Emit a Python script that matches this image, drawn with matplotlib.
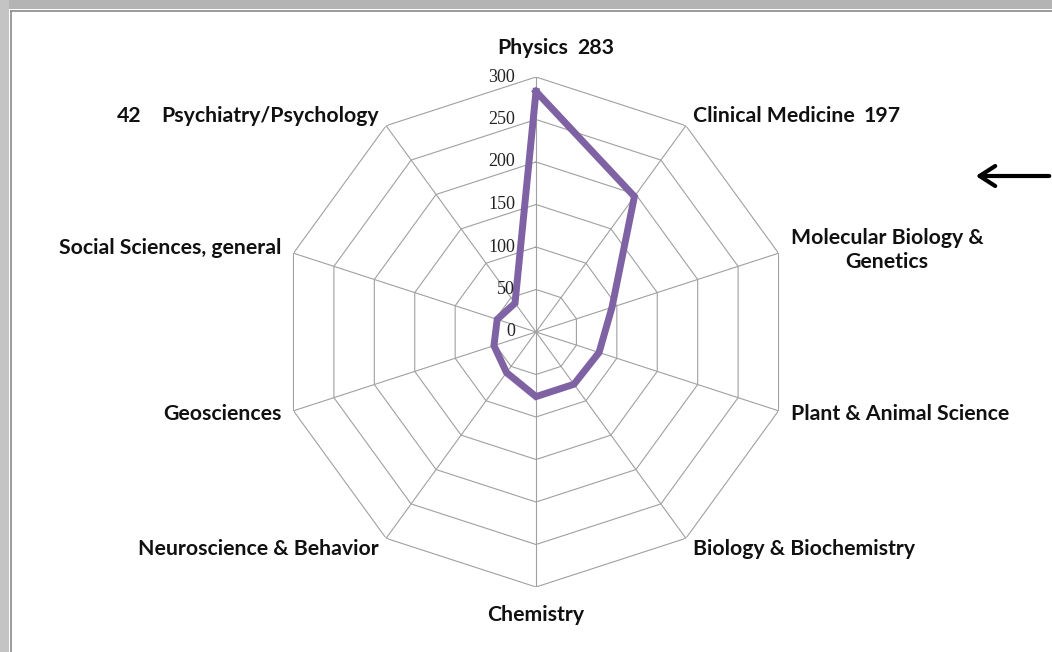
import numpy as np
import matplotlib
matplotlib.use("Agg")
import matplotlib.pyplot as plt
from matplotlib.patches import Rectangle, FancyArrowPatch
from matplotlib.lines import Line2D

# ---- data ----
categories = ["Physics", "Clinical Medicine", "Molecular Biology &\nGenetics",
              "Plant & Animal Science", "Biology & Biochemistry", "Chemistry",
              "Neuroscience & Behavior", "Geosciences", "Social Sciences, general",
              "Psychiatry/Psychology"]
values = [283, 197, 94, 78, 76, 76, 59, 52, 48, 42]
ring_ticks = [0, 50, 100, 150, 200, 250, 300]
highlight = {0: "283", 1: "197", 9: "42"}

W, H = 1052, 652
fig = plt.figure(figsize=(W / 100, H / 100), dpi=100)
fig.patch.set_facecolor("white")

# frame decoration
fig.add_artist(Rectangle((0, 1 - 9 / H), 1, 9 / H, transform=fig.transFigure,
                         facecolor="#b4b4b4", edgecolor="none"))
fig.add_artist(Rectangle((0, 0), 9 / W, 1, transform=fig.transFigure,
                         facecolor="#c4c4c4", edgecolor="none"))
fig.add_artist(Line2D([11 / W, 11 / W], [0, 1 - 11 / H], transform=fig.transFigure,
                      color="#8a8a8a", lw=1.2))
fig.add_artist(Line2D([11 / W, 1], [1 - 11 / H, 1 - 11 / H], transform=fig.transFigure,
                      color="#8a8a8a", lw=1.2))

cx, cy, R = 536, 652 - 332, 255
ax = fig.add_axes([(cx - R) / W, (cy - R) / H, 2 * R / W, 2 * R / H], projection="polar")
ax.set_theta_zero_location("N")
ax.set_theta_direction(-1)
ax.set_ylim(0, 300)
ax.grid(False)
ax.set_xticks([])
ax.set_yticks([])
ax.spines["polar"].set_visible(False)
ax.patch.set_alpha(0)

n = len(categories)
theta = np.arange(n) * 2 * np.pi / n
theta_c = np.append(theta, theta[0])

grid_col = "#a0a0a0"
for r in ring_ticks[1:]:
    ax.plot(theta_c, [r] * (n + 1), color=grid_col, lw=0.8, zorder=1)
for t in theta:
    ax.plot([t, t], [0, 300], color=grid_col, lw=0.8, zorder=1)

vals_c = np.append(values, values[0])
ax.plot(theta_c, vals_c, color="#7f62a3", lw=5.0, solid_joinstyle="miter", zorder=3)

for r in ring_ticks:
    ax.annotate(str(r), xy=(0, r), xytext=(-21, 0), textcoords="offset pixels",
                ha="right", va="center", fontsize=13, family="Liberation Serif",
                color="#222222")

lab_font = dict(family="Lato", weight="bold", fontsize=15.3, color="#111111")
label_pos = {
    0: (-3, 29, "center", "center"),
    1: (7, 10, "left", "center"),
    2: (12, 3, "left", "center"),
    3: (12, -3, "left", "center"),
    4: (7, -11, "left", "center"),
    5: (0, -28, "center", "center"),
    6: (-7, -11, "right", "center"),
    7: (-12, -3, "right", "center"),
    8: (-12, 5, "right", "center"),
    9: (-7, 10, "right", "center"),
}
for i, cat in enumerate(categories):
    dx, dy, ha, va = label_pos[i]
    ann = ax.annotate(cat, xy=(theta[i], 300), xytext=(dx, dy), textcoords="offset pixels",
                      ha=ha, va=va, multialignment="center", linespacing=1.25, **lab_font)
    if i in highlight:
        if ha == "right":
            ax.annotate(highlight[i], xy=(0, 0.5), xycoords=ann, xytext=(-20, 0),
                        textcoords="offset pixels", ha="right", va="center", **lab_font)
        else:
            ax.annotate(highlight[i], xy=(1, 0.5), xycoords=ann, xytext=(9, 0),
                        textcoords="offset pixels", ha="left", va="center", **lab_font)

# arrow on the right
fig.add_artist(FancyArrowPatch(
    (1.0, 1 - 176 / H), (973 / W, 1 - 176 / H), transform=fig.transFigure,
    arrowstyle="->,head_length=7,head_width=4.5", lw=3.0, color="#000000",
    mutation_scale=1.6))

fig.savefig("out.png", dpi=100)
